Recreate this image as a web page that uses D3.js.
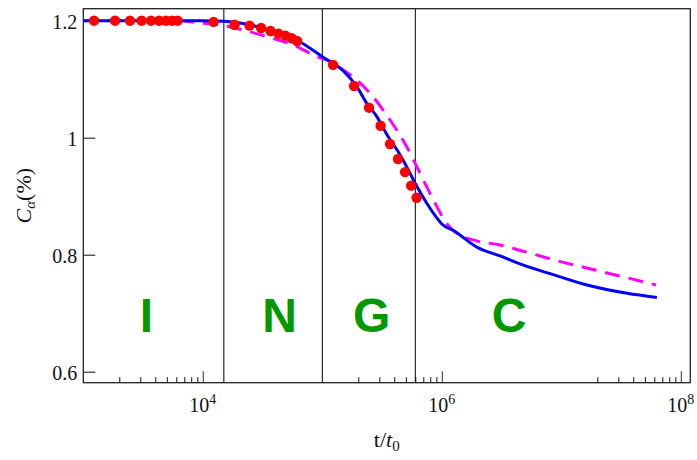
<!DOCTYPE html>
<html>
<head>
<meta charset="utf-8">
<script src="https://cdn.jsdelivr.net/npm/d3@7"></script>
<style>
  html, body { margin: 0; padding: 0; background: #fff; }
  svg { display: block; }
</style>
</head>
<body>
<svg id="chart" width="697" height="460"></svg>
<script>
// ---------------- data ----------------
// solid blue curve (t/t0, C_alpha %)
const blueT = [1e3, 9.5e3, 1.5e4, 2.5e4, 4e4, 6.1e4, 1e5, 1.5e5, 1.95e5, 2.35e5, 2.86e5, 3.47e5,
  4.48e5, 5.09e5, 5.98e5, 7.48e5, 9.08e5, 1e6, 1.26e6, 2e6, 3.16e6, 4.27e6, 7.94e6, 1.58e7, 3.55e7, 6.3e7];
const blueC = [1.2, 1.2, 1.199, 1.1926, 1.181, 1.167, 1.1385, 1.114, 1.087, 1.059, 1.036, 1.0055,
  0.9704, 0.95, 0.922, 0.888, 0.863, 0.8525, 0.841, 0.812, 0.797, 0.786, 0.768, 0.749, 0.734, 0.727];

// dashed magenta curve
const magT = [1e3, 6.4e3, 8.9e3, 1.4e4, 2.05e4, 3.44e4, 5.73e4, 9e4, 1.16e5, 1.5e5, 1.95e5, 2.51e5,
  3.69e5, 5.09e5, 6.58e5, 8.51e5, 1.1e6, 1.25e6, 1.96e6, 3.08e6, 3.98e6, 9.1e6, 2.14e7, 6.2e7];
const magC = [1.2, 1.2, 1.1966, 1.1926, 1.1853, 1.1726, 1.1585, 1.1385, 1.13, 1.1157, 1.0986, 1.0759,
  1.0303, 0.9846, 0.9391, 0.8935, 0.8537, 0.841, 0.8236, 0.8166, 0.8107, 0.79, 0.7715, 0.7483];

// red measured points
const ptT = [1230, 1845, 2460, 3075, 3690, 4305, 4920, 5535, 6150,
  12300, 18450, 24600, 30750, 36900, 43050, 49200, 55350, 61500,
  123000, 184500, 246000, 307500, 369000, 430500, 492000, 553500, 615000];
const ptC = [1.2, 1.2, 1.2, 1.2, 1.2, 1.2, 1.2, 1.2, 1.2,
  1.198, 1.193, 1.1915, 1.1875, 1.1824, 1.1778, 1.1744, 1.17, 1.1653,
  1.1245, 1.0884, 1.0513, 1.0205, 0.9892, 0.9636, 0.9412, 0.918, 0.8974];

// regime boundaries
const boundaries = [1.5e4, 1e5, 6e5];

// regime labels
const regimeText = ["I", "N", "G", "C"];
const regimeT = [3375, 43950, 258500, 3.66e6];
const regimeC = [0.668, 0.668, 0.668, 0.668];

// ticks
const xMajorTicks = [1e4, 1e6, 1e8];
const xMajorExp = ["4", "6", "8"];
const xMinorTicks = [2e3, 3e3, 4e3, 5e3, 6e3, 7e3, 8e3, 9e3,
  2e5, 3e5, 4e5, 5e5, 6e5, 7e5, 8e5, 9e5,
  2e7, 3e7, 4e7, 5e7, 6e7, 7e7, 8e7, 9e7];
const yTicks = [0.6, 0.8, 1.0, 1.2];
const yTickLabels = ["0.6", "0.8", "1", "1.2"];

// ---------------- layout ----------------
const L = 83.3, R = 690.3, T = 8.7, B = 382.7;
const serif = "'Liberation Serif', 'Times New Roman', serif";

const svg = d3.select("#chart");
const x = d3.scaleLog().domain([1e3, 1.2e8]).range([L, R]);
const y = d3.scaleLinear().domain([0.5812, 1.2205]).range([B, T]);

// regime boundary lines
svg.append("g").selectAll("line").data(boundaries).join("line")
  .attr("x1", d => x(d)).attr("x2", d => x(d))
  .attr("y1", T).attr("y2", B)
  .attr("stroke", "#000").attr("stroke-width", 1);

// x axis major ticks
const gxMaj = svg.append("g").attr("transform", `translate(0,${B})`)
  .call(d3.axisBottom(x).tickValues(xMajorTicks).tickSizeInner(-11.5).tickSizeOuter(0).tickFormat(""));
gxMaj.select(".domain").remove();
gxMaj.selectAll(".tick line").attr("stroke", "#444").attr("stroke-width", 1.1);

// x axis minor ticks
const gxMin = svg.append("g").attr("transform", `translate(0,${B})`)
  .call(d3.axisBottom(x).tickValues(xMinorTicks).tickSizeInner(-5.5).tickSizeOuter(0).tickFormat(""));
gxMin.select(".domain").remove();
gxMin.selectAll(".tick line").attr("stroke", "#111").attr("stroke-width", 1);

// x tick labels 10^n
const xl = svg.append("g").selectAll("text").data(xMajorTicks).join("text")
  .attr("x", d => x(d)).attr("y", 411.7)
  .attr("text-anchor", "middle")
  .attr("font-family", serif).attr("font-size", 20).attr("fill", "#111");
xl.append("tspan").text("10");
xl.append("tspan").attr("font-size", 14).attr("dy", -7.5).text((d, i) => xMajorExp[i]);

// y axis
const gy = svg.append("g").attr("transform", `translate(${L},0)`)
  .call(d3.axisLeft(y).tickValues(yTicks).tickSizeInner(-12).tickSizeOuter(0).tickPadding(6)
    .tickFormat((d, i) => yTickLabels[i]));
gy.select(".domain").remove();
gy.selectAll(".tick line").attr("stroke", "#222").attr("stroke-width", 1.1);
gy.selectAll(".tick text").attr("font-family", serif).attr("font-size", 20)
  .attr("fill", "#111").attr("dy", "0.38em");

// frame
svg.append("rect").attr("x", L).attr("y", T).attr("width", R - L).attr("height", B - T)
  .attr("fill", "none").attr("stroke", "#222").attr("stroke-width", 1.3);

// curves
const line = d3.line().curve(d3.curveMonotoneX);
svg.append("path")
  .attr("d", line(magT.map((t, i) => [x(t), y(magC[i])])))
  .attr("fill", "none").attr("stroke", "#ff00ff").attr("stroke-width", 3)
  .attr("stroke-dasharray", "15,9");
svg.append("path")
  .attr("d", line(blueT.map((t, i) => [x(t), y(blueC[i])])))
  .attr("fill", "none").attr("stroke", "#0000ff").attr("stroke-width", 3)
  .attr("stroke-linejoin", "round");

// points
svg.append("g").selectAll("circle").data(ptT).join("circle")
  .attr("cx", d => x(d)).attr("cy", (d, i) => y(ptC[i])).attr("r", 5.2)
  .attr("fill", "#ff0000");

// regime labels
svg.append("g").selectAll("text").data(regimeText).join("text")
  .attr("x", (d, i) => x(regimeT[i])).attr("y", (d, i) => y(regimeC[i]))
  .attr("text-anchor", "middle")
  .attr("font-family", "'Liberation Sans', Arial, sans-serif").attr("font-weight", "bold")
  .attr("font-size", 48).attr("fill", "#009900")
  .text(d => d);

// x axis title
const xt = svg.append("text").attr("x", (L + R) / 2).attr("y", 447)
  .attr("text-anchor", "middle").attr("font-family", serif).attr("font-size", 22).attr("fill", "#111");
xt.append("tspan").text("t/");
xt.append("tspan").attr("font-style", "italic").text("t");
xt.append("tspan").attr("font-size", 15).attr("dy", 4).text("0");

// y axis title
const yt = svg.append("text")
  .attr("transform", `translate(31,${(T + B) / 2}) rotate(-90)`)
  .attr("text-anchor", "middle").attr("font-family", serif).attr("font-size", 22).attr("fill", "#111");
yt.append("tspan").attr("font-style", "italic").text("C");
yt.append("tspan").attr("font-style", "italic").attr("font-size", 15).attr("dy", 4).text("α");
yt.append("tspan").attr("dy", -4).text("(%)");
</script>
</body>
</html>
